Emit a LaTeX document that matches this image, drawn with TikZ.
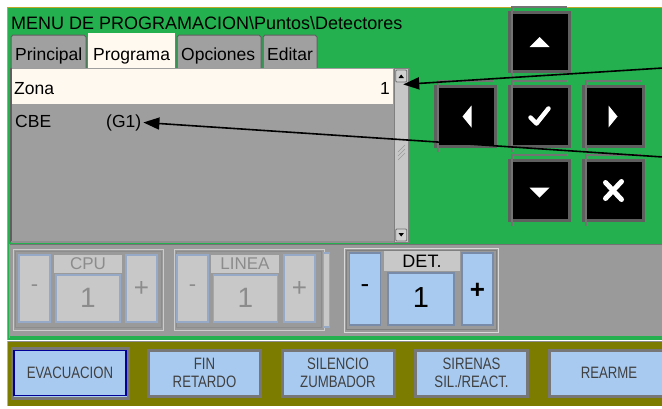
\documentclass[tikz,border=0pt]{standalone}
\usepackage{fontspec}
\setmainfont{Liberation Sans}
\newfontfamily\narrowsans{Liberation Sans}[FakeStretch=0.8]
\usetikzlibrary{arrows.meta}

\definecolor{panelgreen}{RGB}{36,176,78}
\definecolor{panelgray}{RGB}{154,154,154}
\definecolor{listgray}{RGB}{158,158,158}
\definecolor{rowcream}{RGB}{255,249,239}
\definecolor{tabgray}{RGB}{160,160,160}
\definecolor{keyblue}{RGB}{168,202,240}
\definecolor{keyedge}{RGB}{120,140,170}
\definecolor{offfill}{RGB}{200,200,200}
\definecolor{offedge}{RGB}{150,170,200}
\definecolor{offtext}{RGB}{140,140,140}
\definecolor{barolive}{RGB}{124,124,0}
\definecolor{framegold}{RGB}{190,170,40}
\definecolor{bevel}{RGB}{95,95,95}

\tikzset{
  ui/.style={font=\fontsize{17.5}{20}\selectfont, inner sep=0pt},
  tabbox/.style={draw=bevel, line width=1pt, fill=tabgray},
  navkey/.style={draw=bevel, line width=3pt, fill=black},
  navmark/.style={fill=white, draw=none},
  onkey/.style={draw=keyedge, line width=1.2pt, fill=keyblue},
  offkey/.style={draw=offedge, line width=1.2pt, fill=offfill},
  cmdkey/.style={draw=bevel!85, line width=3pt, fill=keyblue, minimum width=112pt, minimum height=46pt},
  cmdtext/.style={font=\narrowsans\fontsize{16.5}{17}\selectfont, text=black!75, align=center, inner sep=0pt},
  pointer/.style={draw=black, line width=1.6pt, -{Triangle[length=16pt,width=12pt]}},
}

\begin{document}
\begin{tikzpicture}[x=1pt,y=-1pt]
\useasboundingbox (0,0) rectangle (662,408);
\fill[white] (0,0) rectangle (662,408);

% main green panel
\fill[panelgreen] (8,8) rectangle (662,340);
\draw[framegold, line width=1.2pt] (7.5,340) -- (7.5,7.5) -- (662,7.5);

\node[ui, font=\fontsize{18}{20}\selectfont, anchor=base west] (title) at (11,29) {MENU DE PROGRAMACION\textbackslash Puntos\textbackslash Detectores};

% tabs
\draw[tabbox] (11,68) -- (11,37) -- (13,35) -- (84,35) -- (86,37) -- (86,68);
\draw[tabbox] (177,68) -- (177,37) -- (179,35) -- (259,35) -- (261,37) -- (261,68);
\draw[tabbox] (263,68) -- (263,37) -- (265,35) -- (315,35) -- (317,37) -- (317,68);
\fill[rowcream] (88,33) rectangle (175,69);
\node[ui, anchor=base west] (tabA) at (15,60) {Principal};
\node[ui, anchor=base west] (tabB) at (93,60) {Programa};
\node[ui, anchor=base west] (tabC) at (181,60) {Opciones};
\node[ui, anchor=base west] (tabD) at (267,60) {Editar};

% list box
\fill[listgray] (11,68) rectangle (394,242);
\draw[bevel, line width=1.2pt] (11,242) -- (11,68);
\draw[bevel!70, line width=1.2pt] (11,242) -- (394,242);
\fill[rowcream] (12,69) rectangle (393,104);
\node[ui, anchor=base west] (zona) at (14,94) {Zona};
\node[ui, anchor=base east] (zonaval) at (390,94) {1};
\node[ui, anchor=base west] (cbe) at (15,127) {CBE};
\node[ui, anchor=base west, inner xsep=2pt] (grp) at (104,127) {(G1)};

% scroll bar
\draw[fill=black!22, draw=black!50, line width=0.8pt] (394.5,68.5) rectangle (408,242);
\node[draw=black!55, fill=black!18, line width=0.8pt, minimum width=11pt, minimum height=12pt, inner sep=0pt, rounded corners=1pt] (sbup) at (401.2,76) {};
\node[draw=black!55, fill=black!18, line width=0.8pt, minimum width=11pt, minimum height=12pt, inner sep=0pt, rounded corners=1pt] (sbdown) at (401.2,235) {};
\fill[black] (398.5,78) -- (401.2,74.5) -- (403.9,78) -- cycle;
\fill[black] (398.5,233) -- (401.2,236.5) -- (403.9,233) -- cycle;
\foreach \d in {0,4,8}
  \draw[black!40, line width=0.6pt] (398,152+\d) -- (405,145+\d);

% navigation keys
\node[navkey, minimum width=60pt, minimum height=59pt] (kup) at (539.5,42) {};
\node[navkey, minimum width=60pt, minimum height=60pt] (kleft) at (465.5,116.5) {};
\node[navkey, minimum width=60pt, minimum height=60pt] (kok) at (539.5,116.5) {};
\node[navkey, minimum width=60pt, minimum height=60pt] (kright) at (613.5,116.5) {};
\node[navkey, minimum width=60pt, minimum height=60pt] (kdown) at (539.5,190.5) {};
\node[navkey, minimum width=60pt, minimum height=60pt] (kesc) at (613.5,190.5) {};
\foreach \k in {kup,kleft,kok,kright,kdown,kesc}{
  \draw[black!55, line width=1.3pt] ([xshift=4pt,yshift=-4pt]\k.south west) -- ([xshift=4pt,yshift=4pt]\k.north west) -- ([xshift=-4pt,yshift=4pt]\k.north east);
}
\fill[navmark] ([yshift=-5pt]kup.center) -- ++(-10,0) -- ++(10,-10) -- ++(10,10) -- cycle;
\fill[navmark] ([yshift=3pt]kdown.center) -- ++(-10,0) -- ++(10,10) -- ++(10,-10) -- cycle;
\fill[navmark] ([xshift=-3pt]kleft.center) -- ++(9,-11) -- ++(0,22) -- cycle;
\fill[navmark] ([xshift=4pt]kright.center) -- ++(-9,-11) -- ++(0,22) -- cycle;
% check mark
\draw[white, line width=4.5pt, line cap=round, line join=round]
  ([xshift=-9pt,yshift=-1pt]kok.center) -- ([xshift=-3pt,yshift=-7pt]kok.center) -- ([xshift=9pt,yshift=8pt]kok.center);
% cancel cross
\draw[white, line width=5pt, line cap=round]
  ([xshift=-8pt,yshift=-8pt]kesc.center) -- ([xshift=8pt,yshift=9pt]kesc.center);
\draw[white, line width=5pt, line cap=round]
  ([xshift=8pt,yshift=-9pt]kesc.center) -- ([xshift=-8pt,yshift=8pt]kesc.center);

% lower gray strip with counters
\fill[panelgray] (10,244) rectangle (662,336);
\draw[black!55, line width=1.5pt] (10,244.5) -- (662,244.5);
\draw[panelgreen!70!yellow, line width=1pt] (9.5,244) -- (9.5,338);

% CPU counter (disabled)
\draw[black!20, line width=1pt] (13,249) rectangle (163,330);
\draw[black!45, line width=1pt] (15,251) rectangle (161,327);
\node[offkey, minimum width=31pt, minimum height=67pt] (cpum) at (34.5,288.5) {};
\node[fill=offfill, minimum width=68pt, minimum height=18pt, inner sep=0pt] (cpul) at (88,264) {};
\node[offkey, minimum width=64pt, minimum height=47pt] (cpuv) at (88,298.5) {};
\node[offkey, minimum width=31pt, minimum height=67pt] (cpup) at (141.5,288.5) {};
\node[ui, text=offtext, font=\fontsize{17}{20}\selectfont] at (cpul) {CPU};
\node[ui, text=offtext, font=\fontsize{28}{30}\selectfont] at ([yshift=1pt]cpuv) {1};
\node[ui, text=offtext, font=\fontsize{22}{24}\selectfont] at (cpum) {-};
\node[ui, text=offtext, font=\fontsize{26}{28}\selectfont] at (cpup) {+};

% LINEA counter (disabled)
\draw[black!20, line width=1pt] (174,249) rectangle (324,330);
\draw[black!45, line width=1pt] (176,251) rectangle (321,327);
\node[offkey, minimum width=31pt, minimum height=67pt] (linm) at (192.5,288.5) {};
\node[fill=offfill, minimum width=68pt, minimum height=18pt, inner sep=0pt] (linl) at (245,264) {};
\node[offkey, minimum width=64pt, minimum height=47pt] (linv) at (245.5,298.5) {};
\node[offkey, minimum width=31pt, minimum height=67pt] (linp) at (299.5,288.5) {};
\node[ui, text=offtext, font=\fontsize{17}{20}\selectfont] at (linl) {LINEA};
\node[ui, text=offtext, font=\fontsize{28}{30}\selectfont] at ([yshift=1pt]linv) {1};
\node[ui, text=offtext, font=\fontsize{22}{24}\selectfont] at (linm) {-};
\node[ui, text=offtext, font=\fontsize{26}{28}\selectfont] at (linp) {+};
\node[offkey, minimum width=4pt, minimum height=74pt] (linbar) at (326.5,290) {};

% DET counter (active)
\draw[black!15, line width=1pt] (344,248) rectangle (498,332);
\draw[black!50, line width=1pt] (346,250) rectangle (496,329);
\node[onkey, minimum width=31pt, minimum height=72pt] (detm) at (365,289) {};
\node[fill=offfill, minimum width=76pt, minimum height=20pt, inner sep=0pt] (detl) at (422,261) {};
\node[onkey, minimum width=66pt, minimum height=52pt] (detv) at (421,299) {};
\node[onkey, minimum width=31pt, minimum height=72pt] (detp) at (477.5,289) {};
\node[ui, font=\fontsize{18}{20}\selectfont] at (detl) {DET.};
\node[ui, font=\fontsize{29}{31}\selectfont] at ([yshift=1pt]detv) {1};
\node[ui, font=\fontsize{26}{28}\selectfont] at (detm) {-};
\node[ui, font=\bfseries\fontsize{26}{28}\selectfont] at ([yshift=-2pt]detp) {+};

% command bar
\draw[panelgreen, line width=1.5pt] (9,339) -- (662,339);
\fill[barolive] (7,341) rectangle (662,406);
\draw[black!45, line width=1.2pt] (7,341.5) -- (662,341.5);
\draw[black!30, line width=1pt] (7,341) -- (7,406);
\node[cmdkey, draw=bevel!85, minimum width=116pt, minimum height=50pt] (bevacframe) at (70,373) {};
\node[cmdkey, draw=blue!60!black, line width=1.8pt, minimum width=112pt, minimum height=45pt] (bevac) at (70,373) {};
\node[cmdkey] (bfin) at (204.5,373) {};
\node[cmdkey] (bsil) at (338,373) {};
\node[cmdkey] (bsir) at (471.5,373) {};
\node[cmdkey, minimum width=120pt] (brear) at (609,373) {};
\node[cmdtext] at (bevac) {EVACUACION};
\node[cmdtext] at (bfin) {FIN\\[1pt]RETARDO};
\node[cmdtext] at (bsil) {SILENCIO\\[1pt]ZUMBADOR};
\node[cmdtext] at (bsir) {SIRENAS\\[1pt]SIL./REACT.};
\node[cmdtext] at (brear) {REARME};

% pointers
\coordinate (ptrA) at (663,68);
\coordinate (ptrB) at (663,157);
\draw[pointer] (ptrA) -- ([xshift=2pt,yshift=-2pt]sbup.south);
\draw[pointer] (ptrB) -- (grp.east);
\end{tikzpicture}
\end{document}
